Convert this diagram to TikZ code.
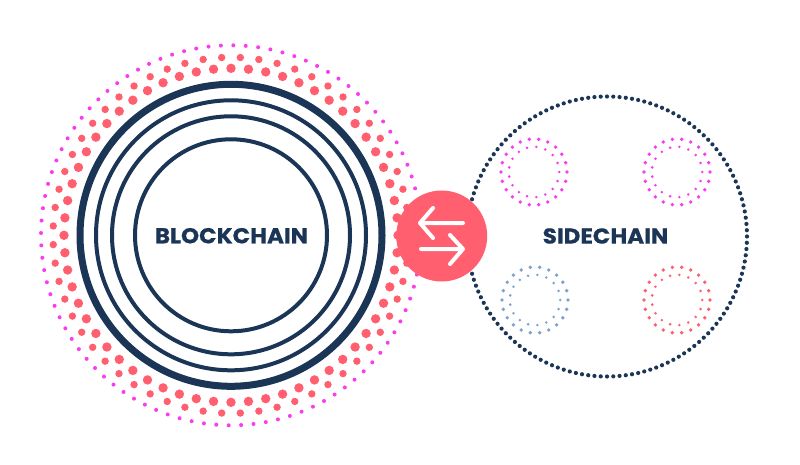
\documentclass[tikz,border=0pt]{standalone}
\usepackage{fontspec}
\newfontfamily\labelfont{Poppins Bold}[FakeStretch=1.07,FakeBold=0.6]
\definecolor{navy}{HTML}{1B3557}
\definecolor{coral}{HTML}{FF5F6E}
\definecolor{magen}{HTML}{FA3CF0}
\definecolor{steel}{HTML}{7FA3CC}
\tikzset{
  ring/.style={draw=navy,line width=#1,circle,inner sep=0pt},
  label text/.style={text=navy,font=\labelfont\fontsize{21.5}{22}\selectfont,inner sep=0pt},
  arrow line/.style={draw=white,line width=4pt,line cap=round,line join=round}
}
\begin{document}
\begin{tikzpicture}[x=1pt,y=-1pt]
\useasboundingbox (0,0) rectangle (800,465);
\fill[white] (0,0) rectangle (800,465);
% blockchain dots
\foreach \k in {1,...,96}{\fill[magen] ({231+190*cos(90.7+\k*3.75)},{235.3+190*sin(90.7+\k*3.75)}) circle[radius=2pt];}
\foreach \k in {1,...,60}{\fill[coral] ({231+178*cos(93+\k*6)},{235.3+178*sin(93+\k*6)}) circle[radius=3.7pt];}
\foreach \k in {1,...,60}{\fill[coral] ({231+167*cos(90+\k*6)},{235.3+167*sin(90+\k*6)}) circle[radius=4.7pt];}
% rings
\node[ring=7pt,minimum size=302pt] (r1) at (231,235.3) {};
\node[ring=4pt,minimum size=270pt] (r2) at (231,235.3) {};
\node[ring=4pt,minimum size=238pt] (r3) at (231,235.3) {};
\node[ring=4pt,minimum size=192pt] (r4) at (231,235.3) {};
\node[label text] (bc) at (231.5,235.7) {BLOCKCHAIN};
% sidechain dots
\foreach \k in {1,...,140}{\fill[navy] ({607+140*cos(\k*2.5714)},{236.5+140*sin(\k*2.5714)}) circle[radius=2.1pt];}
% small rings
\foreach \cx/\cy/\col in {534/172/magen,677/172/magen,535/300/steel,677/300/coral}{
  \foreach \k in {1,...,22}{\fill[\col] ({\cx+33*cos(\k*16.3636)},{\cy+33*sin(\k*16.3636)}) circle[radius=1.9pt];}
  \foreach \k in {1,...,17}{\fill[\col] ({\cx+25.2*cos(\k*21.1765)},{\cy-25.2*sin(\k*21.1765)}) circle[radius=1.4pt];}
}
\node[label text] (sc) at (605.5,236) {SIDECHAIN};
% hub
\node[fill=coral,circle,minimum size=91pt,inner sep=0pt] (hub) at (441.7,236) {};
\coordinate (a1) at ([shift={(21.3,-13)}]hub.center);
\coordinate (a2) at ([shift={(-21.7,-13)}]hub.center);
\coordinate (a3) at ([shift={(-8.7,-28)}]hub.center);
\coordinate (a4) at ([shift={(-8.7,2)}]hub.center);
\coordinate (b1) at ([shift={(-20.7,13)}]hub.center);
\coordinate (b2) at ([shift={(21.3,13)}]hub.center);
\coordinate (b3) at ([shift={(8.3,-1)}]hub.center);
\coordinate (b4) at ([shift={(8.3,28)}]hub.center);
\draw[arrow line] (a1) -- (a2) (a3) -- (a2) -- (a4);
\draw[arrow line] (b1) -- (b2) (b3) -- (b2) -- (b4);
\end{tikzpicture}
\end{document}
